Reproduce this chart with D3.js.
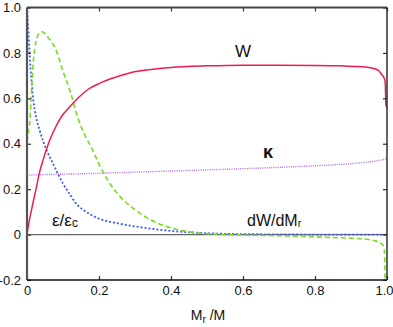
<!DOCTYPE html>
<html>
<head>
<meta charset="utf-8">
<script src="https://cdn.jsdelivr.net/npm/d3@7"></script>
<style>
  body { margin: 0; background: #fff; }
  text { font-family: "Liberation Sans", Arial, sans-serif; fill: #111; }
</style>
</head>
<body>
<div id="chart"></div>
<script>
// DATA
const mW   = [0, 0.005, 0.01, 0.018, 0.025, 0.035, 0.045, 0.053, 0.063, 0.08, 0.096, 0.12, 0.144, 0.17, 0.2, 0.25, 0.285, 0.35, 0.4, 0.5, 0.6, 0.7, 0.8, 0.87, 0.92, 0.95, 0.97, 0.978, 0.985, 0.992, 0.995, 0.997, 1.0];
const valW = [0, 0.05, 0.09, 0.15, 0.2, 0.275, 0.33, 0.37, 0.415, 0.475, 0.52, 0.565, 0.605, 0.64, 0.665, 0.695, 0.712, 0.728, 0.736, 0.743, 0.746, 0.746, 0.745, 0.743, 0.74, 0.736, 0.728, 0.72, 0.705, 0.69, 0.67, 0.57, 0.56];

const mDW   = [0, 0.003, 0.008, 0.011, 0.018, 0.025, 0.033, 0.041, 0.05, 0.06, 0.07, 0.08, 0.1, 0.12, 0.14, 0.16, 0.18, 0.2, 0.23, 0.26, 0.28, 0.3, 0.33, 0.36, 0.4, 0.45, 0.5, 0.55, 0.6, 0.7, 0.8, 0.85, 0.9, 0.94, 0.96, 0.98, 0.99, 0.993, 0.996, 1.0];
const valDW = [0.41, 0.45, 0.5, 0.59, 0.77, 0.85, 0.885, 0.893, 0.885, 0.865, 0.845, 0.815, 0.72, 0.63, 0.52, 0.44, 0.38, 0.31, 0.225, 0.165, 0.135, 0.11, 0.077, 0.052, 0.03, 0.012, 0.004, 0, -0.002, -0.005, -0.01, -0.013, -0.016, -0.02, -0.025, -0.035, -0.05, -0.08, -0.3, -0.4];

const mEps   = [0, 0.003, 0.005, 0.01, 0.017, 0.025, 0.035, 0.045, 0.055, 0.07, 0.082, 0.1, 0.12, 0.14, 0.16, 0.2, 0.25, 0.3, 0.35, 0.4, 0.45, 0.5, 0.6, 0.7, 0.8, 1.0];
const valEps = [1.0, 0.92, 0.86, 0.73, 0.6, 0.52, 0.46, 0.41, 0.37, 0.32, 0.28, 0.225, 0.175, 0.13, 0.105, 0.07, 0.05, 0.036, 0.025, 0.016, 0.01, 0.006, 0.002, 0.001, 0, 0];

const mK   = [0, 0.1, 0.2, 0.3, 0.4, 0.5, 0.6, 0.7, 0.8, 0.87, 0.92, 0.96, 0.98, 0.99, 1.0];
const valK = [0.262, 0.266, 0.27, 0.275, 0.28, 0.285, 0.29, 0.296, 0.303, 0.309, 0.315, 0.322, 0.327, 0.33, 0.337];

const xTicks = [0, 0.2, 0.4, 0.6, 0.8, 1.0];
const yTicks = [-0.2, 0, 0.2, 0.4, 0.6, 0.8, 1.0];

// CONFIGURATION
const width = 393, height = 327;
const margin = {left: 27, right: 6, top: 7.5, bottom: 47};
const fmt = d => d === 0 ? "0" : d3.format(".1f")(d).replace("−", "-");

const x = d3.scaleLinear().domain([0, 1]).range([margin.left, width - margin.right]);
const y = d3.scaleLinear().domain([-0.2, 1]).range([height - margin.bottom, margin.top]);

const svg = d3.select("#chart").append("svg")
    .attr("width", width)
    .attr("height", height);

svg.append("clipPath").attr("id", "clip")
  .append("rect")
    .attr("x", x(0)).attr("y", y(1))
    .attr("width", x(1) - x(0)).attr("height", y(-0.2) - y(1));

// ligne zero
svg.append("line")
    .attr("x1", x(0)).attr("x2", x(1))
    .attr("y1", y(0)).attr("y2", y(0))
    .style("stroke", "#666").style("stroke-width", 1.2);

// COURBES
const line = d3.line().x(d => x(d[0])).y(d => y(d[1])).curve(d3.curveMonotoneX);
const plot = svg.append("g").attr("clip-path", "url(#clip)");

const series = [
  {m: mK,   v: valK,   color: "#b066f2", w: 1.4, dash: "1,1.2"},
  {m: mEps, v: valEps, color: "#3d5ce8", w: 1.8, dash: "2,2"},
  {m: mDW,  v: valDW,  color: "#77dd1a", w: 1.6, dash: "5,3"},
  {m: mW,   v: valW,   color: "#f01c4c", w: 1.5, dash: null}
];
series.forEach(s => {
  plot.append("path")
      .datum(d3.zip(s.m, s.v))
      .attr("d", line)
      .style("fill", "none")
      .style("stroke", s.color)
      .style("stroke-width", s.w)
      .style("stroke-dasharray", s.dash);
});

// AXES (ticks vers l'interieur)
const tick = 4;
svg.append("g").attr("transform", `translate(0,${y(-0.2)})`)
  .call(d3.axisBottom(x).tickValues(xTicks).tickSizeInner(-tick).tickSizeOuter(0).tickPadding(6).tickFormat(fmt))
  .call(g => g.select(".domain").remove())
  .call(g => g.selectAll(".tick text").filter(d => d === 1).attr("dx", -3));
svg.append("g").attr("transform", `translate(0,${y(1)})`)
  .call(d3.axisTop(x).tickValues(xTicks).tickSizeInner(-tick).tickSizeOuter(0).tickFormat(""))
  .call(g => g.select(".domain").remove());
svg.append("g").attr("transform", `translate(${x(0)},0)`)
  .call(d3.axisLeft(y).tickValues(yTicks).tickSizeInner(-tick).tickSizeOuter(0).tickPadding(6).tickFormat(fmt))
  .call(g => g.select(".domain").remove());
svg.append("g").attr("transform", `translate(${x(1)},0)`)
  .call(d3.axisRight(y).tickValues(yTicks).tickSizeInner(-tick).tickSizeOuter(0).tickFormat(""))
  .call(g => g.select(".domain").remove());

svg.selectAll(".tick line").style("stroke", "#333").style("stroke-width", 1.2);
svg.selectAll(".tick text").style("font-size", "13px").style("fill", "#111")
    .style("font-family", "'Liberation Sans', Arial, sans-serif");

// cadre
const frame = svg.append("g").style("fill", "none");
frame.append("line").attr("x1", x(0)).attr("x2", x(0)).attr("y1", y(1)).attr("y2", y(-0.2))
    .style("stroke", "#555").style("stroke-width", 2.2);
frame.append("line").attr("x1", x(0)).attr("x2", x(1)).attr("y1", y(1)).attr("y2", y(1))
    .style("stroke", "#444").style("stroke-width", 1.8);
frame.append("line").attr("x1", x(1)).attr("x2", x(1)).attr("y1", y(1)).attr("y2", y(-0.2))
    .style("stroke", "#222").style("stroke-width", 1.4);
frame.append("line").attr("x1", x(0)).attr("x2", x(1)).attr("y1", y(-0.2)).attr("y2", y(-0.2))
    .style("stroke", "#111").style("stroke-width", 1.6);

// TITRE AXE X
const xt = svg.append("text")
    .attr("x", (x(0) + x(1)) / 2 + 1).attr("y", 320)
    .attr("text-anchor", "middle")
    .style("font-size", "14px");
xt.append("tspan").text("M");
xt.append("tspan").attr("dy", 3).style("font-size", "10px").text("r");
xt.append("tspan").attr("dy", -3).text(" /M");

// ETIQUETTES COURBES
svg.append("text").attr("x", 243).attr("y", 57).attr("text-anchor", "middle")
    .style("font-size", "17px").text("W");
svg.append("text").attr("x", 268).attr("y", 158).attr("text-anchor", "middle")
    .style("font-size", "18px").style("font-weight", "bold").text("κ");

const eps = svg.append("text").attr("x", 52).attr("y", 226).style("font-size", "17px");
eps.append("tspan").text("ε/ε");
eps.append("tspan").attr("dy", 1).style("font-size", "12px").text("c");

const dw = svg.append("text").attr("x", 247).attr("y", 226).style("font-size", "16px");
dw.append("tspan").text("dW/dM");
dw.append("tspan").attr("dy", 1).style("font-size", "11px").text("r");
</script>
</body>
</html>
